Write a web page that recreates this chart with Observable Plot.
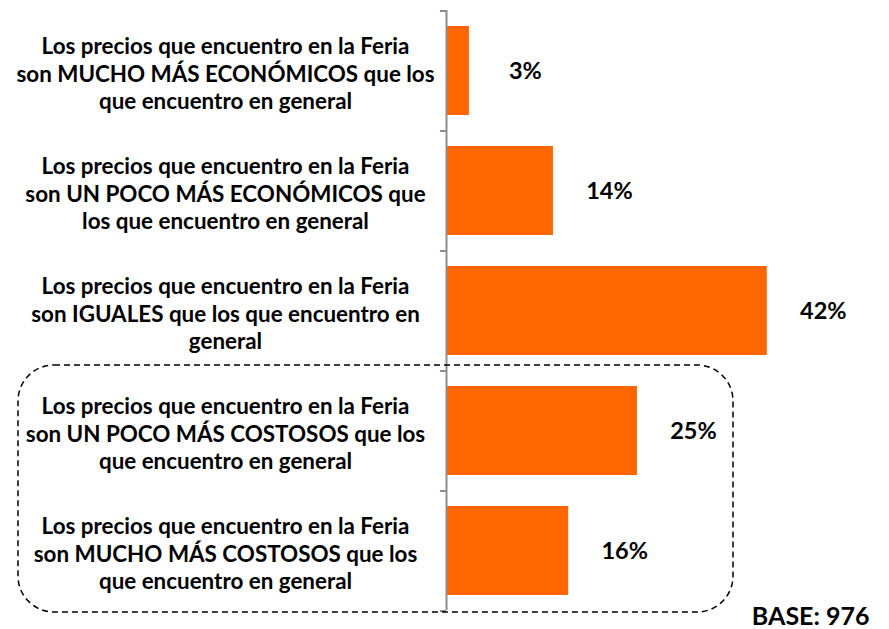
<!DOCTYPE html>
<html>
<head>
<meta charset="utf-8">
<script src="https://cdn.jsdelivr.net/npm/d3@7"></script>
<script src="https://cdn.jsdelivr.net/npm/@observablehq/plot@0.6"></script>
<style>
  html, body { margin: 0; padding: 0; background: #ffffff; }
  #chart svg { display: block; overflow: visible; }
</style>
</head>
<body>
<div id="chart"></div>
<script>
const categories = [
  "Los precios que encuentro en la Feria\nson MUCHO MÁS ECONÓMICOS que los\nque encuentro en general",
  "Los precios que encuentro en la Feria\nson UN POCO MÁS ECONÓMICOS que\nlos que encuentro en general",
  "Los precios que encuentro en la Feria\nson IGUALES que los que encuentro en\ngeneral",
  "Los precios que encuentro en la Feria\nson UN POCO MÁS COSTOSOS que los\nque encuentro en general",
  "Los precios que encuentro en la Feria\nson MUCHO MÁS COSTOSOS que los\nque encuentro en general"
];
const values = [3, 14, 42, 25, 16];
const valueLabels = ["3%", "14%", "42%", "25%", "16%"];
const baseLabel = ["BASE: 976"];
const highlighted = [categories[3], categories[4]];

const data = categories.map((c, i) => ({category: c, value: values[i], label: valueLabels[i]}));

const W = 889, H = 629;
const orange = "#FF6600";
const axisGray = "#8c8c8c";

const chart = Plot.plot({
  width: W,
  height: H,
  marginLeft: 446,
  marginRight: 0,
  marginTop: 10,
  marginBottom: 19,
  style: {fontFamily: "Lato, 'Open Sans', sans-serif", fontWeight: "bold", color: "#000", background: "#fff"},
  x: {domain: [0, 58], axis: null},
  y: {domain: categories, axis: null, paddingInner: 0.26, paddingOuter: 0.13},
  marks: [
    Plot.barX(data, {y: "category", x: "value", fill: orange}),
    Plot.ruleX([0], {stroke: axisGray, strokeWidth: 2}),
    Plot.ruleY(categories, {y: d => d, x1: -0.8, x2: 0, dy: -60, stroke: axisGray, strokeWidth: 2}),
    Plot.ruleY([categories[categories.length - 1]], {y: d => d, x1: -0.8, x2: 0, dy: 60, stroke: axisGray, strokeWidth: 2}),
    Plot.text(data, {y: "category", text: "category", frameAnchor: "left", dx: -221, dy: 2,
      textAnchor: "middle", lineHeight: 1.22, fontSize: 22.4, fontWeight: "bold", fill: "#000"}),
    Plot.text(data, {y: "category", x: "value", text: "label", dx: 56, dy: 0,
      textAnchor: "middle", fontSize: 23.5, fontWeight: "bold", fill: "#000"}),
    Plot.text(baseLabel, {text: d => d, frameAnchor: "bottom-right", lineAnchor: "bottom", dx: -20, dy: 14,
      textAnchor: "end", fontSize: 25, fontWeight: "bold", fill: "#000"})
  ]
});

document.getElementById("chart").appendChild(chart);

// Dashed rounded box around the two highlighted categories, positioned from the y scale
const ys = chart.scale("y");
const yBand = d3.scaleBand().domain(ys.domain).range(ys.range)
  .paddingInner(ys.paddingInner).paddingOuter(ys.paddingOuter);
const step = yBand.step();
const firstTop = yBand(highlighted[0]) + yBand.bandwidth() / 2 - step / 2 - 5;
const lastBottom = yBand(highlighted[highlighted.length - 1]) + yBand.bandwidth() / 2 + step / 2 + 2;
d3.select(chart).append("rect")
  .attr("x", 18)
  .attr("y", firstTop)
  .attr("width", 733 - 18)
  .attr("height", lastBottom - firstTop)
  .attr("rx", 36)
  .attr("ry", 36)
  .attr("fill", "none")
  .attr("stroke", "#000")
  .attr("stroke-width", 1.5)
  .attr("stroke-dasharray", "6,4");
</script>
</body>
</html>
